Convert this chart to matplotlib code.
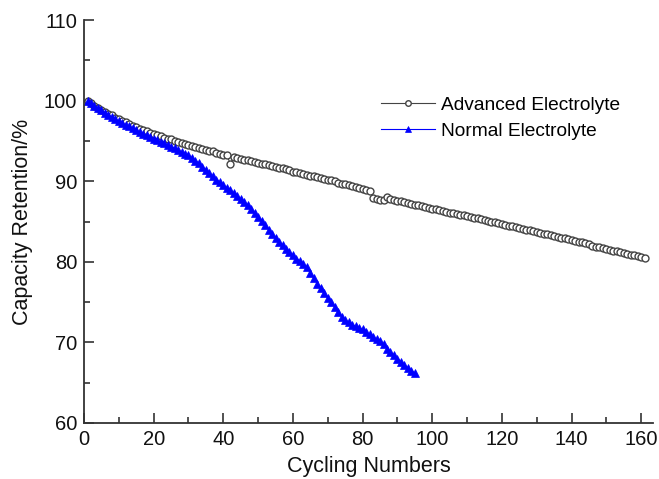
import numpy as np
import matplotlib
matplotlib.use('Agg')
import matplotlib.pyplot as plt

plt.rcParams['font.family'] = ['Liberation Sans', 'DejaVu Sans']

# capacity retention (%), one value per cycle
adv_ret = [
    100.0, 99.7, 99.4, 99.1, 98.9, 98.6, 98.4, 98.2, 97.9, 97.7,
    97.5, 97.3, 97.1, 96.9, 96.7, 96.5, 96.4, 96.2, 96.0, 95.9,
    95.7, 95.6, 95.4, 95.3, 95.2, 95.0, 94.9, 94.8, 94.6, 94.5,
    94.4, 94.3, 94.1, 94.0, 93.9, 93.8, 93.7, 93.5, 93.4, 93.3,
    93.2, 92.2, 93.0, 92.9, 92.8, 92.7, 92.6, 92.5, 92.4, 92.3,
    92.2, 92.1, 92.0, 91.9, 91.8, 91.7, 91.6, 91.5, 91.4, 91.2,
    91.1, 91.0, 90.9, 90.8, 90.7, 90.6, 90.5, 90.4, 90.3, 90.2,
    90.1, 90.0, 89.8, 89.7, 89.6, 89.5, 89.4, 89.3, 89.2, 89.0,
    88.9, 88.8, 87.9, 87.8, 87.7, 87.7, 88.0, 87.8, 87.7, 87.6,
    87.5, 87.4, 87.3, 87.2, 87.1, 87.0, 86.9, 86.8, 86.7, 86.6,
    86.5, 86.4, 86.3, 86.2, 86.1, 86.0, 85.9, 85.8, 85.8,
    85.7, 85.6, 85.5, 85.4, 85.3, 85.2, 85.1, 85.0, 84.9,
    84.8, 84.7, 84.6, 84.5, 84.4, 84.3, 84.2, 84.1, 84.0, 83.9,
    83.8, 83.7, 83.6, 83.5, 83.4, 83.3, 83.2, 83.1, 83.0, 82.9,
    82.8, 82.7, 82.6, 82.5, 82.4, 82.3, 82.2, 82.0, 81.9, 81.8,
    81.7, 81.6, 81.5, 81.4, 81.3, 81.2, 81.1, 81.0, 80.9, 80.8,
    80.7, 80.6, 80.5,
]
norm_ret = [
    100.0, 99.7, 99.4, 99.1, 98.8, 98.5, 98.2, 98.0, 97.7, 97.5,
    97.2, 97.0, 96.8, 96.6, 96.4, 96.1, 95.9, 95.7, 95.5, 95.3,
    95.1, 94.9, 94.7, 94.5, 94.3, 94.1, 93.9, 93.6, 93.4, 93.2,
    92.9, 92.5, 92.3, 91.8, 91.4, 91.0, 90.6, 90.2, 89.9, 89.5,
    89.2, 88.9, 88.5, 88.2, 87.8, 87.4, 87.0, 86.6, 86.1, 85.6,
    85.1, 84.6, 84.0, 83.5, 83.0, 82.5, 82.1, 81.6, 81.2, 80.8,
    80.4, 80.1, 79.7, 79.3, 78.6, 78.0, 77.3, 76.7, 76.1, 75.5,
    75.0, 74.4, 73.8, 73.2, 72.8, 72.5, 72.2, 72.0, 71.8,
    71.6, 71.3, 71.0, 70.7, 70.4, 70.2, 69.8, 69.2, 68.8, 68.4,
    68.0, 67.6, 67.2, 66.8, 66.5, 66.2,
]
adv_cyc = np.arange(1, len(adv_ret) + 1)
norm_cyc = np.arange(1, len(norm_ret) + 1)

fig = plt.figure(figsize=(6.59, 4.79), dpi=100)
ax = fig.add_axes([0.1275, 0.117, 0.864, 0.841])

ax.plot(adv_cyc, adv_ret, '-o', color='#444444', lw=0.8,
        ms=5, mfc='white', mec='#444444', mew=1.0,
        label='Advanced Electrolyte')
ax.plot(norm_cyc, norm_ret, '-^', color='#0000ff', lw=0.8,
        ms=6, mfc='#0000ff', mec='#0000ff', mew=0.5,
        label='Normal Electrolyte')

ax.set_xlim(0, 163.5)
ax.set_ylim(60, 110)
ax.set_xticks(np.arange(0, 161, 20))
ax.set_xticks(np.arange(0, 164, 10), minor=True)
ax.set_yticks(np.arange(60, 111, 10))
ax.set_yticks(np.arange(60, 111, 5), minor=True)
ax.tick_params(which='both', direction='in', colors='#333333',
               labelcolor='#111111', labelsize=14.5, width=1.2)
ax.tick_params(which='major', length=7)
ax.tick_params(which='minor', length=4)
ax.tick_params(axis='x', pad=5)
ax.tick_params(axis='y', pad=5)

for side in ['top', 'right']:
    ax.spines[side].set_visible(False)
for side in ['left', 'bottom']:
    ax.spines[side].set_color('#333333')
    ax.spines[side].set_linewidth(1.3)

ax.set_xlabel('Cycling Numbers', fontsize=15.5, labelpad=5, color='#111111')
ax.set_ylabel('Capacity Retention/%', fontsize=15.5, labelpad=8, color='#111111')

leg = ax.legend(loc='upper left', bbox_to_anchor=(0.505, 0.835),
                frameon=False, fontsize=13.8, numpoints=1,
                handlelength=2.8, handletextpad=0.3, borderpad=0,
                labelspacing=0.45, markerscale=0.8)

fig.savefig('out.png', dpi=100)
